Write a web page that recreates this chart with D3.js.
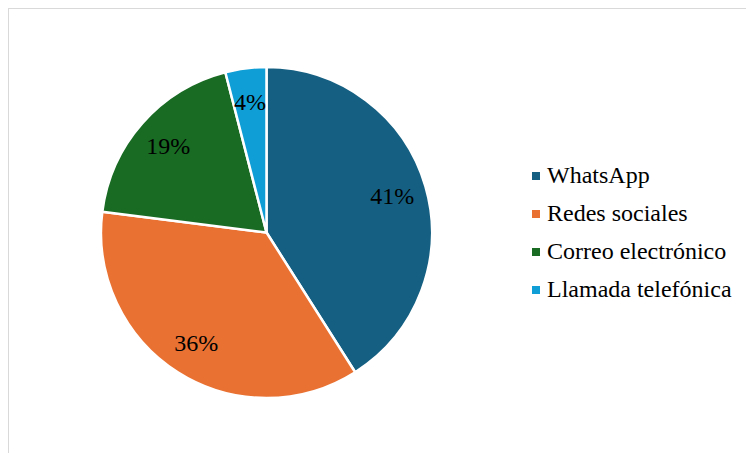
<!DOCTYPE html>
<html><head><meta charset="utf-8">
<script src="https://cdn.jsdelivr.net/npm/d3@7"></script>
<style>body{margin:0;background:#fff}svg{display:block}</style>
</head><body>
<script>
const categories = ["WhatsApp","Redes sociales","Correo electrónico","Llamada telefónica"];
const values = [41, 36, 19, 4];
const colors = ["#156082","#E97132","#196B24","#0F9ED5"];

const FONT = '"Liberation Serif"';
const W = 746, H = 453;
const svg = d3.select("body").append("svg").attr("width", W).attr("height", H);
svg.append("rect").attr("x",8.5).attr("y",8.5).attr("width",W).attr("height",H)
  .attr("fill","#fff").attr("stroke","#d9d9d9").attr("stroke-width",1);

const cx = 266.5, cy = 232.5, R = 165.5;
const pie = d3.pie().sort(null).value(d => d.v);
const data = categories.map((c,i)=>({c, v: values[i], col: colors[i]}));
const arcs = pie(data);
const arc = d3.arc().innerRadius(0).outerRadius(R);
const labelArc = d3.arc().innerRadius(131).outerRadius(131);
const g = svg.append("g").attr("transform", `translate(${cx},${cy})`);
g.selectAll("path").data(arcs).join("path")
  .attr("d", arc).attr("fill", d => d.data.col)
  .attr("stroke","#fff").attr("stroke-width",2.5).attr("stroke-linejoin","round");
g.selectAll("text").data(arcs).join("text")
  .attr("transform", d => `translate(${labelArc.centroid(d)})`)
  .attr("text-anchor","middle").attr("dy","0.33em")
  .style("font-family", FONT).style("font-size","24px")
  .attr("fill","#000").text(d => d.data.v + "%");

const legend = d3.scaleBand().domain(categories).range([157, 309]);
const rows = svg.append("g").selectAll("g").data(data).join("g")
  .attr("transform", d => `translate(532,${legend(d.c) + legend.bandwidth()/2})`);
rows.append("rect").attr("x",0).attr("y",-4).attr("width",8).attr("height",8).attr("fill", d => d.col);
rows.append("text").attr("x",15).attr("dy","0.3em")
  .style("font-family", FONT).style("font-size","24px")
  .attr("fill","#000").text(d => d.c);
</script>
</body></html>
